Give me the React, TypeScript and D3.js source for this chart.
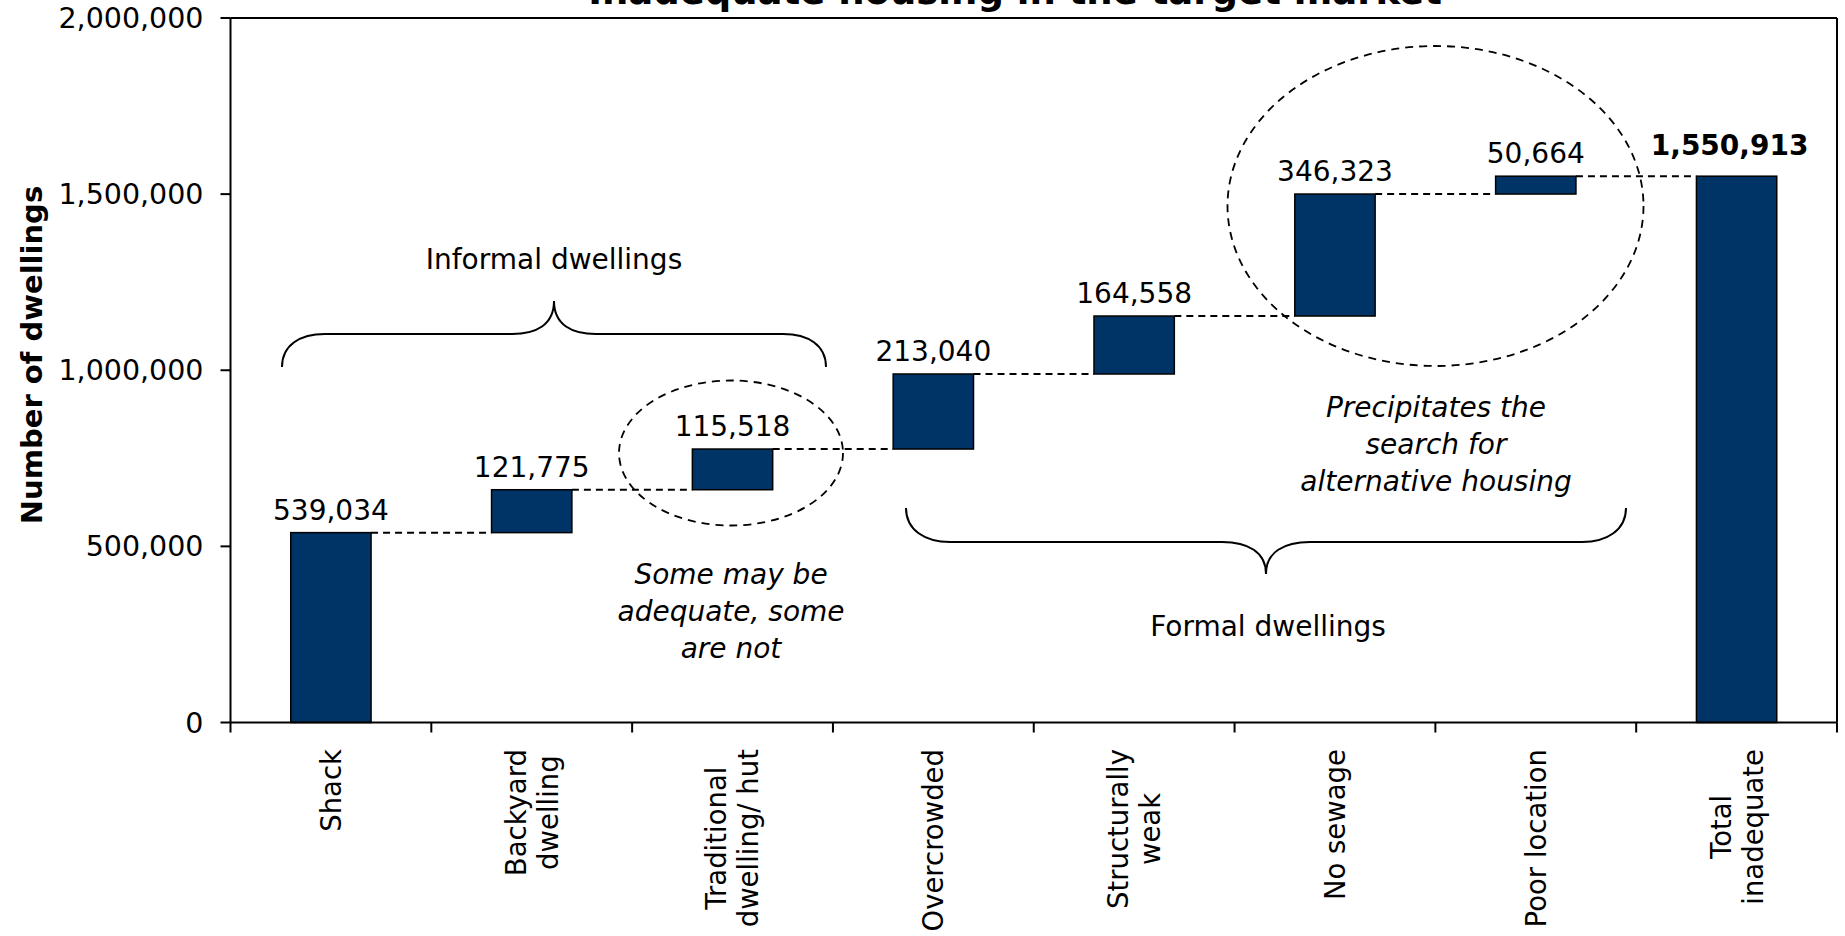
import React, { useEffect, useRef } from 'react';
import * as d3 from 'd3';

// Waterfall of inadequate dwellings by type
const categories = [
  'Shack',
  'Backyard dwelling',
  'Traditional dwelling/ hut',
  'Overcrowded',
  'Structurally weak',
  'No sewage',
  'Poor location',
  'Total inadequate',
];
const categoryLines = [
  ['Shack'],
  ['Backyard', 'dwelling'],
  ['Traditional', 'dwelling/ hut'],
  ['Overcrowded'],
  ['Structurally', 'weak'],
  ['No sewage'],
  ['Poor location'],
  ['Total', 'inadequate'],
];
const increments = [539034, 121775, 115518, 213040, 164558, 346323, 50664];
const totalValue = 1550913;
const yTicks = [0, 500000, 1000000, 1500000, 2000000];

const titleText = 'Inadequate housing in the target market';
const yTitle = 'Number of dwellings';

const FONT = "'DejaVu Sans', Verdana, sans-serif";
const BAR_FILL = '#003366';

export default function App() {
  const ref = useRef<SVGSVGElement>(null);

  useEffect(() => {
    const svg = d3.select(ref.current);
    svg.selectAll('*').remove();

    const left = 230.5;
    const right = 1837;
    const top = 18;
    const bottom = 722.5;

    const x = d3
      .scaleBand<string>()
      .domain(categories)
      .range([left, right])
      .paddingInner(0.6)
      .paddingOuter(0.3);
    const y = d3.scaleLinear().domain([0, 2000000]).range([bottom, top]);
    const fmt = d3.format(',');

    // running totals for the floating bars
    let run = 0;
    const steps = increments.map((v, i) => {
      const s = { cat: categories[i], from: run, to: run + v, value: v, total: false };
      run += v;
      return s;
    });
    steps.push({ cat: categories[7], from: 0, to: totalValue, value: totalValue, total: true });

    const bw = x.bandwidth();
    const step = x.step();

    // title (sits at the very top edge)
    svg
      .append('text')
      .attr('x', 1015)
      .attr('y', 4)
      .attr('text-anchor', 'middle')
      .attr('font-family', FONT)
      .attr('font-weight', 'bold')
      .attr('font-size', 37)
      .text(titleText);

    // plot frame
    const g = svg.append('g');
    g.append('line')
      .attr('x1', left).attr('x2', right).attr('y1', top).attr('y2', top)
      .attr('stroke', '#000').attr('stroke-width', 2);
    g.append('line')
      .attr('x1', right).attr('x2', right).attr('y1', top).attr('y2', bottom)
      .attr('stroke', '#000').attr('stroke-width', 2);

    // connectors between consecutive bars
    for (let i = 0; i < steps.length - 1; i++) {
      const a = steps[i];
      const b = steps[i + 1];
      const level = a.to;
      g.append('line')
        .attr('x1', (x(a.cat) as number) + bw)
        .attr('x2', x(b.cat) as number)
        .attr('y1', y(level))
        .attr('y2', y(level))
        .attr('stroke', '#000')
        .attr('stroke-width', 2)
        .attr('stroke-dasharray', '7,5');
    }

    // bars
    g.selectAll('rect.bar')
      .data(steps)
      .enter()
      .append('rect')
      .attr('class', 'bar')
      .attr('x', (d) => x(d.cat) as number)
      .attr('width', bw)
      .attr('y', (d) => y(d.to))
      .attr('height', (d) => y(d.from) - y(d.to))
      .attr('fill', BAR_FILL)
      .attr('stroke', '#000')
      .attr('stroke-width', 1.5);

    // value labels
    g.selectAll('text.val')
      .data(steps)
      .enter()
      .append('text')
      .attr('class', 'val')
      .attr('x', (d) => (x(d.cat) as number) + bw / 2 - (d.total ? 7 : 0))
      .attr('y', (d) => y(d.to) - (d.total ? 21 : 13))
      .attr('text-anchor', 'middle')
      .attr('font-family', FONT)
      .attr('font-size', 28)
      .attr('font-weight', (d) => (d.total ? 'bold' : 'normal'))
      .text((d) => fmt(d.value));

    // y axis
    g.append('line')
      .attr('x1', left).attr('x2', left).attr('y1', top).attr('y2', bottom)
      .attr('stroke', '#000').attr('stroke-width', 2);
    yTicks.forEach((t) => {
      g.append('line')
        .attr('x1', left - 10).attr('x2', left).attr('y1', y(t)).attr('y2', y(t))
        .attr('stroke', '#000').attr('stroke-width', 2);
      g.append('text')
        .attr('x', left - 27)
        .attr('y', y(t) + 10)
        .attr('text-anchor', 'end')
        .attr('font-family', FONT)
        .attr('font-size', 28.5)
        .text(fmt(t));
    });

    // x axis
    g.append('line')
      .attr('x1', left).attr('x2', right).attr('y1', bottom).attr('y2', bottom)
      .attr('stroke', '#000').attr('stroke-width', 2);
    for (let i = 0; i <= categories.length; i++) {
      const tx = left + i * step;
      g.append('line')
        .attr('x1', tx).attr('x2', tx).attr('y1', bottom).attr('y2', bottom + 10)
        .attr('stroke', '#000').attr('stroke-width', 2);
    }

    // rotated category labels, block aligned to the top below the axis
    const labelTop = 749;
    const catSize = 27.5;
    const lineH = 32;
    categories.forEach((c, i) => {
      const cx = (x(c) as number) + bw / 2;
      const lines = categoryLines[i];
      const lg = g.append('g').attr('transform', `translate(${cx},${labelTop}) rotate(-90)`);
      const texts = lines.map((ln, j) =>
        lg
          .append('text')
          .attr('y', (j - (lines.length - 1) / 2) * lineH + catSize * 0.36)
          .attr('text-anchor', 'middle')
          .attr('font-family', FONT)
          .attr('font-size', catSize)
          .text(ln)
      );
      const maxLen = d3.max(texts, (t) => (t.node() as SVGTextElement).getComputedTextLength()) || 0;
      texts.forEach((t) => t.attr('x', -maxLen / 2));
    });

    // y axis title
    svg
      .append('text')
      .attr('transform', `translate(42,355) rotate(-90)`)
      .attr('text-anchor', 'middle')
      .attr('font-family', FONT)
      .attr('font-weight', 'bold')
      .attr('font-size', 29)
      .text(yTitle);

    // annotations
    const ann = svg.append('g').attr('font-family', FONT).attr('font-size', 28).attr('fill', '#000');

    ann.append('text').attr('x', 554).attr('y', 269).attr('text-anchor', 'middle').text('Informal dwellings');
    ann
      .append('path')
      .attr('d', 'M282,367 C282,345 300,334 325,334 L512,334 C536,334 554,325 554,301 C554,325 572,334 596,334 L783,334 C808,334 826,345 826,367')
      .attr('fill', 'none')
      .attr('stroke', '#000')
      .attr('stroke-width', 2);

    ann.append('text').attr('x', 1268).attr('y', 636).attr('text-anchor', 'middle').text('Formal dwellings');
    ann
      .append('path')
      .attr('d', 'M906,508 C906,530 925,542 950,542 L1222,542 C1248,542 1266,552 1266,574 C1266,552 1284,542 1310,542 L1582,542 C1607,542 1626,530 1626,508')
      .attr('fill', 'none')
      .attr('stroke', '#000')
      .attr('stroke-width', 2);

    ann
      .append('ellipse')
      .attr('cx', 731).attr('cy', 453).attr('rx', 112).attr('ry', 72.5)
      .attr('fill', 'none').attr('stroke', '#000').attr('stroke-width', 1.8)
      .attr('stroke-dasharray', '8,6');
    ann
      .append('ellipse')
      .attr('cx', 1435.5).attr('cy', 206).attr('rx', 208).attr('ry', 160)
      .attr('fill', 'none').attr('stroke', '#000').attr('stroke-width', 1.8)
      .attr('stroke-dasharray', '8,6');

    const note1 = ['Some may be', 'adequate, some', 'are not'];
    note1.forEach((t, i) =>
      ann.append('text').attr('x', 731).attr('y', 584 + i * 37).attr('text-anchor', 'middle')
        .attr('font-style', 'italic').text(t)
    );
    const note2 = ['Precipitates the', 'search for', 'alternative housing'];
    note2.forEach((t, i) =>
      ann.append('text').attr('x', 1436).attr('y', 417 + i * 37).attr('text-anchor', 'middle')
        .attr('font-style', 'italic').text(t)
    );
  }, []);

  return (
    <svg
      ref={ref}
      width={1845}
      height={936}
      style={{ position: 'absolute', left: 0, top: 0, background: '#fff' }}
    />
  );
}
